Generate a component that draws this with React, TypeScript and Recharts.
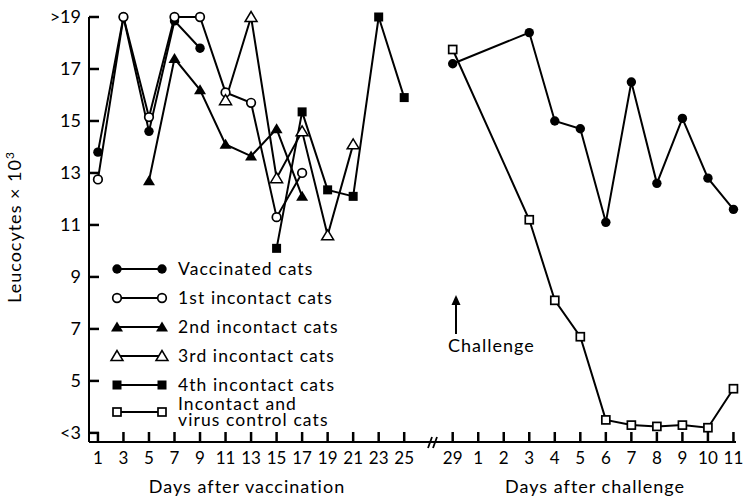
import { Legend, Line, LineChart, XAxis, YAxis } from "recharts";

const FONT = "Lato, 'Open Sans', sans-serif";

// x axis: odd days after vaccination, then days after challenge (day 29 = challenge)
const vaccinationDays = [1, 3, 5, 7, 9, 11, 13, 15, 17, 19, 21, 23, 25];
const challengeDays = [0, 1, 2, 3, 4, 5, 6, 7, 8, 9, 10, 11];
const challengeTickLabels = ["29", "1", "2", "3", "4", "5", "6", "7", "8", "9", "10", "11"];

const yTicks = [3, 5, 7, 9, 11, 13, 15, 17, 19];
const yTickLabels = ["<3", "5", "7", "9", "11", "13", "15", "17", ">19"];

// leucocytes x 10^3
const vaccinatedPreDays = [1, 3, 5, 7, 9];
const vaccinatedPre = [13.8, 19, 14.6, 18.85, 17.8];

const firstIncontactDays = [1, 3, 5, 7, 9, 11, 13, 15, 17];
const firstIncontact = [12.75, 19, 15.15, 19, 19, 16.1, 15.7, 11.3, 13.0];

const secondIncontactDays = [5, 7, 9, 11, 13, 15, 17];
const secondIncontact = [12.7, 17.4, 16.2, 14.1, 13.65, 14.7, 12.1];

const thirdIncontactDays = [11, 13, 15, 17, 19, 21];
const thirdIncontact = [15.8, 19, 12.8, 14.6, 10.6, 14.1];

const fourthIncontactDays = [15, 17, 19, 21, 23, 25];
const fourthIncontact = [10.1, 15.35, 12.35, 12.1, 19, 15.9];

const postChallengeDays = [0, 3, 4, 5, 6, 7, 8, 9, 10, 11];
const vaccinatedPost = [17.2, 18.4, 15.0, 14.7, 11.1, 16.5, 12.6, 15.1, 12.8, 11.6];
const controlPost = [17.75, 11.2, 8.1, 6.7, 3.5, 3.3, 3.25, 3.3, 3.2, 4.7];

type Kind = "dot" | "circle" | "tri" | "openTri" | "square" | "openSquare";

const legendItems: { kind: Kind; label: string[] }[] = [
  { kind: "dot", label: ["Vaccinated cats"] },
  { kind: "circle", label: ["1st incontact cats"] },
  { kind: "tri", label: ["2nd incontact cats"] },
  { kind: "openTri", label: ["3rd incontact cats"] },
  { kind: "square", label: ["4th incontact cats"] },
  { kind: "openSquare", label: ["Incontact and", "virus control cats"] },
];

const CHALLENGE_START = 13.9;
const vacX = (d: number) => (d - 1) / 2;
const chalX = (d: number) => CHALLENGE_START + d;

const xTicks = [...vaccinationDays.map(vacX), ...challengeDays.map(chalX)];
const xTickLabels = [...vaccinationDays.map(String), ...challengeTickLabels];

const toPoints = (days: number[], vals: number[], pos: (d: number) => number) =>
  days.map((d, i) => ({ x: pos(d), y: vals[i] }));

function Mark({ kind, cx, cy }: { kind: Kind; cx: number; cy: number }) {
  if (cx == null || cy == null) return null;
  switch (kind) {
    case "dot":
      return <circle cx={cx} cy={cy} r={4.7} fill="#000" />;
    case "circle":
      return <circle cx={cx} cy={cy} r={4.3} fill="#fff" stroke="#000" strokeWidth={1.7} />;
    case "tri":
    case "openTri": {
      const pts = `${cx},${cy - 5.5} ${cx - 6},${cy + 4.5} ${cx + 6},${cy + 4.5}`;
      return kind === "tri" ? (
        <polygon points={pts} fill="#000" />
      ) : (
        <polygon points={pts} fill="#fff" stroke="#000" strokeWidth={1.5} strokeLinejoin="miter" />
      );
    }
    case "square":
      return <rect x={cx - 4.5} y={cy - 4.5} width={9} height={9} fill="#000" />;
    default:
      return <rect x={cx - 4} y={cy - 4} width={8} height={8} fill="#fff" stroke="#000" strokeWidth={1.7} />;
  }
}

const dotFor = (kind: Kind, name: string) => (p: any) =>
  <Mark key={`${name}-${p.index}`} kind={kind} cx={p.cx} cy={p.cy} />;

// tick lines point inwards (negative tickSize), so labels are placed back outside
function XTick(props: any) {
  const { x, y, index } = props;
  return (
    <text x={x} y={y + 32} textAnchor="middle" fontSize={17} fontFamily={FONT} fill="#000">
      {xTickLabels[index]}
    </text>
  );
}

function YTick(props: any) {
  const { x, y, index } = props;
  return (
    <text x={x - 18} y={y + 6} textAnchor="end" fontSize={18} fontFamily={FONT} fill="#000">
      {yTickLabels[index]}
    </text>
  );
}

function LegendBox() {
  return (
    <svg width={260} height={180} style={{ display: "block" }}>
      {legendItems.map((it, i) => {
        const cy = i < 5 ? 19 + i * 29 : 162;
        return (
          <g key={it.kind}>
            <line x1={17} y1={cy} x2={62} y2={cy} stroke="#000" strokeWidth={2} />
            <Mark kind={it.kind} cx={17} cy={cy} />
            <Mark kind={it.kind} cx={62} cy={cy} />
            {it.label.map((t, j) => (
              <text
                key={t}
                x={78}
                y={it.label.length > 1 ? cy - 2 + j * 16 : cy + 6}
                fontSize={17.5}
                fontFamily={FONT}
                letterSpacing={1.1}
                fill="#000"
              >
                {t}
              </text>
            ))}
          </g>
        );
      })}
    </svg>
  );
}

export default function App() {
  return (
    <div style={{ position: "absolute", left: 0, top: 0, width: 744, height: 499, background: "#fff" }}>
      <LineChart width={744} height={499} margin={{ top: 17, right: 8, bottom: 0, left: 0 }}>
        <XAxis
          dataKey="x"
          type="number"
          domain={[-0.35, 25]}
          ticks={xTicks}
          interval={0}
          tick={<XTick />}
          tickLine={{ stroke: "#000", strokeWidth: 2.5 }}
          tickSize={-10}
          tickMargin={0}
          height={57}
          axisLine={{ stroke: "#000", strokeWidth: 2 }}
        />
        <YAxis
          type="number"
          domain={[2.65, 19]}
          ticks={yTicks}
          interval={0}
          tick={<YTick />}
          tickLine={{ stroke: "#000", strokeWidth: 2.5 }}
          tickSize={-10}
          tickMargin={0}
          width={89}
          axisLine={{ stroke: "#000", strokeWidth: 2 }}
        />
        <Legend
          layout="horizontal"
          verticalAlign="middle"
          align="center"
          content={() => <LegendBox />}
          wrapperStyle={{ left: 100, top: 250, width: 260 }}
        />
        <Line data={toPoints(vaccinatedPreDays, vaccinatedPre, vacX)} dataKey="y" stroke="#000" strokeWidth={2} dot={dotFor("dot", "vp")} activeDot={false} isAnimationActive={false} />
        <Line data={toPoints(firstIncontactDays, firstIncontact, vacX)} dataKey="y" stroke="#000" strokeWidth={2} dot={dotFor("circle", "fi")} activeDot={false} isAnimationActive={false} />
        <Line data={toPoints(secondIncontactDays, secondIncontact, vacX)} dataKey="y" stroke="#000" strokeWidth={2} dot={dotFor("tri", "si")} activeDot={false} isAnimationActive={false} />
        <Line data={toPoints(thirdIncontactDays, thirdIncontact, vacX)} dataKey="y" stroke="#000" strokeWidth={2} dot={dotFor("openTri", "ti")} activeDot={false} isAnimationActive={false} />
        <Line data={toPoints(fourthIncontactDays, fourthIncontact, vacX)} dataKey="y" stroke="#000" strokeWidth={2} dot={dotFor("square", "qi")} activeDot={false} isAnimationActive={false} />
        <Line data={toPoints(postChallengeDays, vaccinatedPost, chalX)} dataKey="y" stroke="#000" strokeWidth={2} dot={dotFor("dot", "va")} activeDot={false} isAnimationActive={false} />
        <Line data={toPoints(postChallengeDays, controlPost, chalX)} dataKey="y" stroke="#000" strokeWidth={2} dot={dotFor("openSquare", "cp")} activeDot={false} isAnimationActive={false} />
      </LineChart>
      <svg
        width={744}
        height={499}
        style={{ position: "absolute", left: 0, top: 0, pointerEvents: "none" }}
        fontFamily={FONT}
        fill="#000"
      >
        <text transform="translate(21,227) rotate(-90)" textAnchor="middle" fontSize={18} letterSpacing={1}>
          Leucocytes × 10<tspan dy={-7} fontSize={12}>3</tspan>
        </text>
        <text x={247} y={493} textAnchor="middle" fontSize={18} letterSpacing={1}>
          Days after vaccination
        </text>
        <text x={595} y={493} textAnchor="middle" fontSize={18} letterSpacing={1}>
          Days after challenge
        </text>
        <line x1={456} y1={334} x2={456} y2={303} stroke="#000" strokeWidth={2} />
        <polygon points="456,295 451.5,305 460.5,305" fill="#000" />
        <text x={448} y={352} fontSize={18} letterSpacing={1}>
          Challenge
        </text>
        <line x1={428} y1={448} x2={432} y2={437} stroke="#000" strokeWidth={1.8} />
        <line x1={433} y1={448} x2={437} y2={437} stroke="#000" strokeWidth={1.8} />
      </svg>
    </div>
  );
}
